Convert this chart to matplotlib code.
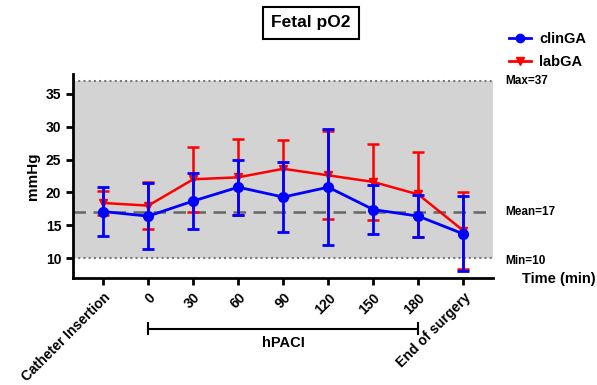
import matplotlib
import numpy as np

matplotlib.use("Agg", force=True)
import matplotlib.pyplot as plt
from matplotlib.lines import Line2D
from matplotlib.transforms import blended_transform_factory

CATEGORIES = ["Catheter Insertion", "0", "30", "60", "90", "120", "150", "180", "End of surgery"]
CLIN_MEAN = [17.1, 16.4, 18.7, 20.8, 19.3, 20.8, 17.4, 16.4, 13.7]
CLIN_SD = [3.7, 5.0, 4.2, 4.2, 5.3, 8.8, 3.7, 3.2, 5.7]
LAB_MEAN = [18.4, 18.0, 22.0, 22.3, 23.6, 22.6, 21.6, 19.7, 14.2]
LAB_SD = [1.8, 3.6, 4.9, 5.8, 4.3, 6.7, 5.8, 6.5, 5.9]
REF_MIN, REF_MEAN, REF_MAX = 10, 17, 37
HPACI_SPAN = (1, 7)

plt.rcParams["font.family"] = ["Liberation Sans", "DejaVu Sans"]
plt.rcParams["font.weight"] = "bold"

fig = plt.figure(figsize=(5.97, 3.85), dpi=100)
ax = fig.add_axes([0.1223, 0.2779, 0.7035, 0.5299])

x = np.arange(len(CATEGORIES))
ax.axhspan(REF_MIN, REF_MAX, color="#d3d3d3", zorder=0, lw=0)
ax.axhline(REF_MAX, color="#777777", ls=(0, (1, 1.5)), lw=1.5, zorder=1)
ax.axhline(REF_MIN, color="#777777", ls=(0, (1, 1.5)), lw=1.5, zorder=1)
ax.axhline(REF_MEAN, color="#666666", ls=(0, (5, 3)), lw=1.8, zorder=1)

ax.errorbar(x, LAB_MEAN, yerr=LAB_SD, color="#ff0000", marker="v", ms=6, lw=1.8,
            elinewidth=1.8, capsize=4, capthick=1.8, zorder=2)
ax.errorbar(x, CLIN_MEAN, yerr=CLIN_SD, color="#0000ff", marker="o", ms=7, lw=2,
            elinewidth=2, capsize=4, capthick=2, zorder=3)

ax.set_xlim(-0.67, 8.66)
ax.set_ylim(7, 38)
ax.set_yticks([10, 15, 20, 25, 30, 35])
ax.set_xticks(x)
ax.set_xticklabels(CATEGORIES, rotation=45, ha="right", rotation_mode="anchor", fontsize=10)
ax.tick_params(axis="both", width=2, length=5, labelsize=10)
ax.tick_params(axis="x", pad=4)
for side in ["top", "right"]:
    ax.spines[side].set_visible(False)
for side in ["left", "bottom"]:
    ax.spines[side].set_linewidth(2)
ax.set_ylabel("mmHg", fontsize=11, fontweight="bold")

trans = ax.transAxes
ax.text(1.03, (REF_MAX - 7) / 31, "Max=37", transform=trans, fontsize=8.5, va="center")
ax.text(1.03, (REF_MEAN - 7) / 31, "Mean=17", transform=trans, fontsize=8.5, va="center")
ax.text(1.03, (REF_MIN - 7) / 31 - 0.015, "Min=10", transform=trans, fontsize=8.5, va="center")
ax.text(1.07, -0.005, "Time (min)", transform=trans, fontsize=10.5, va="center")

bt = blended_transform_factory(ax.transData, ax.transAxes)
y0 = -0.2475
ax.plot(list(HPACI_SPAN), [y0, y0], color="black", lw=1.5, transform=bt, clip_on=False)
for xe in HPACI_SPAN:
    ax.plot([xe, xe], [y0 - 0.027, y0 + 0.027], color="black", lw=1.5, transform=bt, clip_on=False)
ax.text(np.mean(HPACI_SPAN), y0 - 0.035, "hPACI", transform=bt, ha="center", va="top", fontsize=10.5)

handles = [
    Line2D([], [], color="#0000ff", marker="o", ms=6, lw=2),
    Line2D([], [], color="#ff0000", marker="v", ms=6, lw=2),
]
fig.legend(handles, ["clinGA", "labGA"], loc="upper left", bbox_to_anchor=(0.83, 0.95),
           frameon=False, fontsize=10.5, handlelength=1.5, handletextpad=0.6, labelspacing=0.6)

fig.text(311 / 597, 1 - 23 / 385, "Fetal pO2", ha="center", va="center", fontsize=12.5,
         bbox=dict(boxstyle="square,pad=0.5", fc="white", ec="black", lw=1.5))

fig.savefig("out.png", dpi=100)
